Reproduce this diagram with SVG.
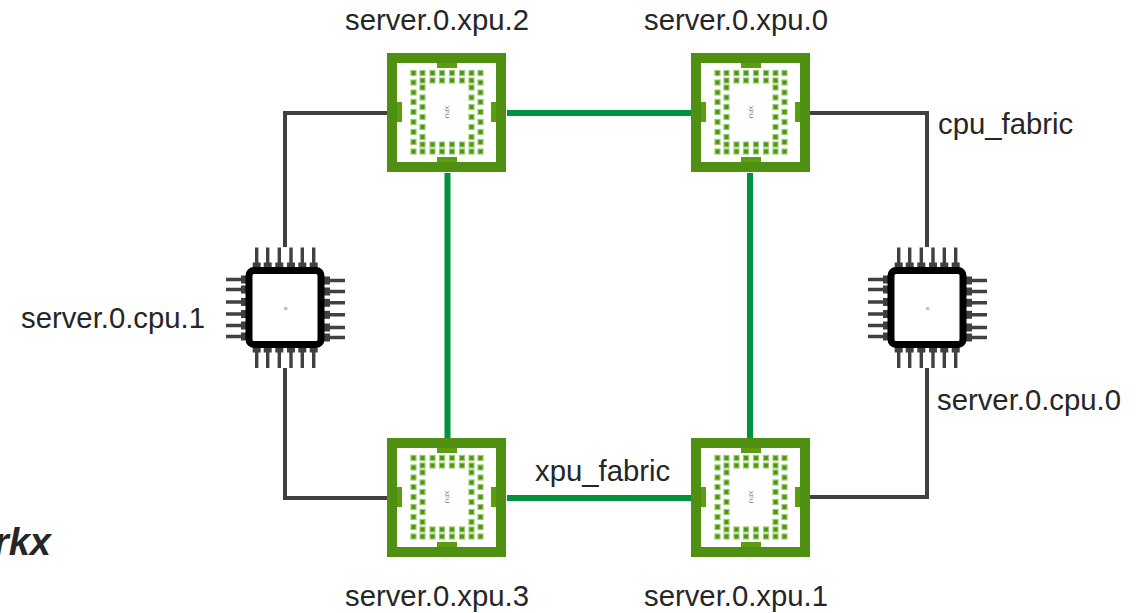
<svg xmlns="http://www.w3.org/2000/svg" width="1142" height="613" viewBox="0 0 1142 613">
<style>
text{font-family:"Liberation Sans",Arial,sans-serif;fill:#262626}
.lbl{font-size:29.3px}
.cg{fill:none;stroke:#404040;stroke-width:4}
.xf{fill:none;stroke:#00923f;stroke-width:6}
.pad{fill:#4a960c;stroke:#9cc874;stroke-width:1.2}
.tab{fill:#5c9e10}
.lead{stroke:#404040;stroke-width:3.4;fill:none}
.cpad{fill:#404040}
.tiny{font-size:6px;fill:#666}
</style>
<defs>
<g id="xpu">
<rect x="0" y="0" width="119" height="119" fill="#4f9012"/>
<rect x="10" y="10" width="99" height="99" fill="#fff"/>
<path class="tab" d="M50 10h20v5H50zM50 104h20v5H50zM10 49h5v20h-5zM104 49h5v20h-5z"/>
<g class="pad">
<rect x="24" y="17.500" width="5" height="5"/><rect x="33" y="17.500" width="5" height="5"/><rect x="43" y="17.500" width="5" height="5"/><rect x="52.500" y="17.500" width="5" height="5"/><rect x="62.500" y="17.500" width="5" height="5"/><rect x="72.500" y="17.500" width="5" height="5"/><rect x="82" y="17.500" width="5" height="5"/><rect x="91" y="17.500" width="5" height="5"/>
<rect x="33" y="25" width="5" height="5"/><rect x="43" y="25" width="5" height="5"/><rect x="52.500" y="25" width="5" height="5"/><rect x="62.500" y="25" width="5" height="5"/><rect x="72.500" y="25" width="5" height="5"/><rect x="82" y="25" width="5" height="5"/>
<rect x="33" y="89" width="5" height="5"/><rect x="43" y="89" width="5" height="5"/><rect x="52.500" y="89" width="5" height="5"/><rect x="62.500" y="89" width="5" height="5"/><rect x="72.500" y="89" width="5" height="5"/><rect x="82" y="89" width="5" height="5"/>
<rect x="24" y="96" width="5" height="5"/><rect x="33" y="96" width="5" height="5"/><rect x="43" y="96" width="5" height="5"/><rect x="52.500" y="96" width="5" height="5"/><rect x="62.500" y="96" width="5" height="5"/><rect x="72.500" y="96" width="5" height="5"/><rect x="82" y="96" width="5" height="5"/><rect x="91" y="96" width="5" height="5"/>
<rect x="24" y="27" width="5" height="5"/><rect x="24" y="37" width="5" height="5"/><rect x="24" y="46.500" width="5" height="5"/><rect x="24" y="56.500" width="5" height="5"/><rect x="24" y="66.500" width="5" height="5"/><rect x="24" y="76.500" width="5" height="5"/><rect x="24" y="86.500" width="5" height="5"/>
<rect x="91" y="27" width="5" height="5"/><rect x="91" y="37" width="5" height="5"/><rect x="91" y="46.500" width="5" height="5"/><rect x="91" y="56.500" width="5" height="5"/><rect x="91" y="66.500" width="5" height="5"/><rect x="91" y="76.500" width="5" height="5"/><rect x="91" y="86.500" width="5" height="5"/>
<rect x="33" y="32" width="5" height="5"/><rect x="33" y="42" width="5" height="5"/><rect x="33" y="51.500" width="5" height="5"/><rect x="33" y="61.500" width="5" height="5"/><rect x="33" y="71.500" width="5" height="5"/><rect x="33" y="81.500" width="5" height="5"/>
<rect x="82" y="32" width="5" height="5"/><rect x="82" y="42" width="5" height="5"/><rect x="82" y="51.500" width="5" height="5"/><rect x="82" y="61.500" width="5" height="5"/><rect x="82" y="71.500" width="5" height="5"/><rect x="82" y="81.500" width="5" height="5"/>
</g>
<text class="tiny" transform="translate(57.500 59) rotate(90)" text-anchor="middle">XPU</text>
</g>
<g id="cpu">
<path class="lead" d="M-28.300-60V-44M-17.300-60V-44M-5.700-60V-44M6-60V-44M17.300-60V-44M28.700-60V-44"/>
<path class="lead" d="M-28.300 44V60.500M-17.300 44V60.500M-5.700 44V60.500M6 44V60.500M17.300 44V60.500M28.700 44V60.500"/>
<path class="lead" d="M-59-28H-40M-59-18H-40M-59-5.500H-40M-59 6.500H-40M-59 18H-40M-59 29H-40"/>
<path class="lead" d="M40-27H60M40-16H60M40-4.700H60M40 7.300H60M40 20H60M40 30H60"/>
<g class="cpad">
<rect x="-32.300" y="-45" width="8" height="6"/><rect x="-21.300" y="-45" width="8" height="6"/><rect x="-9.700" y="-45" width="8" height="6"/><rect x="2" y="-45" width="8" height="6"/><rect x="13.300" y="-45" width="8" height="6"/><rect x="24.700" y="-45" width="8" height="6"/>
<rect x="-32.300" y="39" width="8" height="6"/><rect x="-21.300" y="39" width="8" height="6"/><rect x="-9.700" y="39" width="8" height="6"/><rect x="2" y="39" width="8" height="6"/><rect x="13.300" y="39" width="8" height="6"/><rect x="24.700" y="39" width="8" height="6"/>
<rect x="-44" y="-32" width="6" height="8"/><rect x="-44" y="-22" width="6" height="8"/><rect x="-44" y="-9.500" width="6" height="8"/><rect x="-44" y="2.500" width="6" height="8"/><rect x="-44" y="14" width="6" height="8"/><rect x="-44" y="25" width="6" height="8"/>
<rect x="39" y="-31" width="6" height="8"/><rect x="39" y="-20" width="6" height="8"/><rect x="39" y="-8.700" width="6" height="8"/><rect x="39" y="3.300" width="6" height="8"/><rect x="39" y="16" width="6" height="8"/><rect x="39" y="26" width="6" height="8"/>
</g>
<rect x="-36" y="-37" width="72" height="74" rx="5" fill="#fff" stroke="#000" stroke-width="7"/>
<text transform="translate(-1.500 1) rotate(90)" text-anchor="middle" style="font-size:5px;fill:#777">sl</text>
</g>
</defs>
<g id="connectors">
<path class="cg" d="M387 113H285V247"/>
<path class="cg" d="M285 368V498H387"/>
<path class="cg" d="M810 113H927V247"/>
<path class="cg" d="M927 368V497H810"/>
<path class="xf" d="M507 113H691"/>
<path class="xf" d="M447.500 173V438"/>
<path class="xf" d="M750 173V438"/>
<path class="xf" d="M507 498H691"/>
</g>
<g id="server.0.xpu.2"><use href="#xpu" x="387" y="53"/><text class="lbl" x="345" y="30">server.0.xpu.2</text></g>
<g id="server.0.xpu.0"><use href="#xpu" x="691" y="53"/><text class="lbl" x="644" y="30">server.0.xpu.0</text></g>
<g id="server.0.xpu.3"><use href="#xpu" x="387" y="438"/><text class="lbl" x="345" y="606">server.0.xpu.3</text></g>
<g id="server.0.xpu.1"><use href="#xpu" x="691" y="438"/><text class="lbl" x="644" y="606">server.0.xpu.1</text></g>
<g id="server.0.cpu.1"><use href="#cpu" x="285" y="307.500"/><text class="lbl" x="21" y="328">server.0.cpu.1</text></g>
<g id="server.0.cpu.0"><use href="#cpu" x="927" y="307.500"/><text class="lbl" x="937" y="410">server.0.cpu.0</text></g>
<text class="lbl" x="938" y="134">cpu_fabric</text>
<text class="lbl" x="535" y="481">xpu_fabric</text>
<text x="51" y="555" text-anchor="end" font-size="38" font-weight="bold" font-style="italic">rkx</text>
</svg>
